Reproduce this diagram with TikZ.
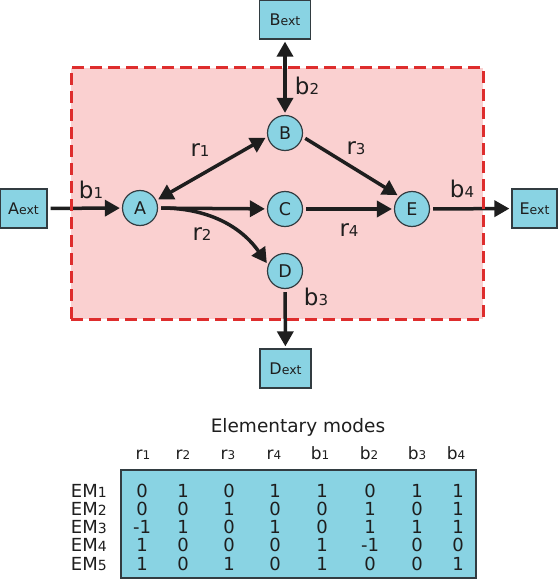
\documentclass[tikz,border=0pt]{standalone}
\usepackage{fontspec}
\setmainfont{DejaVu Sans}
\usetikzlibrary{arrows.meta}
\definecolor{nodeblue}{RGB}{137,211,227}
\definecolor{bgpink}{RGB}{250,208,208}
\definecolor{dashred}{RGB}{222,45,45}
\definecolor{ink}{RGB}{30,30,30}
\definecolor{rim}{RGB}{50,60,65}
\newcommand\ssub[1]{{\fontsize{15}{15}\selectfont #1}}
\newcommand\esub[1]{{\fontsize{12.5}{12.5}\selectfont #1}}
\newcommand\tsub[1]{{\fontsize{12}{12}\selectfont #1}}
\newcommand\msub[1]{{\fontsize{14}{14}\selectfont #1}}
\tikzset{
  met/.style={circle, draw=rim, line width=1.2pt, fill=nodeblue, minimum size=35pt,
    inner sep=0pt, font=\fontsize{17.5}{17.5}\selectfont, text=ink},
  extbox/.style={rectangle, draw=rim, line width=1.2pt, fill=nodeblue, minimum height=39pt,
    inner sep=0pt, font=\fontsize{16}{16}\selectfont, text=ink},
  flux/.style={draw=ink, line width=3.5pt, -{Triangle[length=15pt 0 0,width=16pt 0 0]}, shorten <=3pt, shorten >=2pt},
  biflux/.style={draw=ink, line width=3.5pt, {Triangle[length=15pt 0 0,width=16pt 0 0]}-{Triangle[length=15pt 0 0,width=16pt 0 0]}, shorten <=2pt, shorten >=2pt},
  elab/.style={anchor=base, font=\fontsize{23}{23}\selectfont, text=ink, inner sep=0pt},
  tfont/.style={font=\fontsize{18}{18}\selectfont, text=ink, inner sep=0pt},
  hfont/.style={anchor=base, font=\fontsize{17}{17}\selectfont, text=ink, inner sep=0pt},
}
\begin{document}
\begin{tikzpicture}[x=1pt,y=1pt]
\useasboundingbox (0,0) rectangle (558,-580);
% compartment fill
\node[fill=bgpink, minimum width=412pt, minimum height=251pt, inner sep=0pt] (cell) at (277,-193.5) {};
% metabolites
\node[met] (A) at (140,-208) {A};
\node[met] (B) at (285,-133) {B};
\node[met] (C) at (285,-209) {C};
\node[met] (D) at (285,-271) {D};
\node[met] (E) at (412,-209) {E};
% external
\node[extbox, minimum width=47pt] (Aext) at (23.5,-208.5) {A\esub{ext}};
\node[extbox, minimum width=51pt] (Bext) at (285,-19.5) {B\esub{ext}};
\node[extbox, minimum width=51pt] (Dext) at (285.5,-368.5) {D\esub{ext}};
\node[extbox, minimum width=45pt] (Eext) at (534.5,-208.5) {E\esub{ext}};
% reactions
\draw[flux] (Aext) -- (A);
\draw[biflux] (A.25) -- (B.192);
\draw[flux] (A) -- (C);
\draw[flux] (A.east) to[out=0,in=125] (D.160);
\draw[flux] (B.-12) -- (E.135);
\draw[flux] (C) -- (E);
\draw[flux] (E) -- (Eext);
\draw[biflux] (Bext) -- (B);
\draw[flux] (D) -- (Dext);
% compartment border on top
\node[draw=dashred, line width=3pt, dash pattern=on 12pt off 6pt,
  minimum width=412pt, minimum height=251pt, inner sep=0pt] (cellrim) at (277,-193.5) {};
% reaction labels
\node[elab] (lb1) at (91,-198) {b\ssub{1}};
\node[elab] (lr1) at (200,-157) {r\ssub{1}};
\node[elab] (lr2) at (202,-240) {r\ssub{2}};
\node[elab] (lb2) at (307,-95) {b\ssub{2}};
\node[elab] (lr3) at (356,-155) {r\ssub{3}};
\node[elab] (lr4) at (349,-236) {r\ssub{4}};
\node[elab] (lb4) at (462,-197) {b\ssub{4}};
\node[elab] (lb3) at (316,-305) {b\ssub{3}};
% table
\node[anchor=base, font=\fontsize{18.5}{18.5}\selectfont, text=ink, inner sep=0pt] (title) at (298,-432) {Elementary modes};
\node[draw=rim, line width=2pt, fill=nodeblue, minimum width=355pt, minimum height=108pt, inner sep=0pt] (tbl) at (298.5,-524) {};
\foreach \x/\lbl [count=\i] in {143/{r\tsub{1}},183/{r\tsub{2}},228/{r\tsub{3}},274/{r\tsub{4}},320/{b\tsub{1}},369/{b\tsub{2}},417/{b\tsub{3}},456/{b\tsub{4}}}
  \node[hfont] (h\i) at (\x,-459) {\lbl};
\def\colx{{142,183,229,275,322,370,417,458}}
\foreach \vals [count=\j] in {{0,1,0,1,1,0,1,1},{0,0,1,0,0,1,0,1},{-1,1,0,1,0,1,1,1},{1,0,0,0,1,-1,0,0},{1,0,1,0,1,0,0,1}} {
  \pgfmathsetmacro\yy{-497-18.25*(\j-1)}
  \node[tfont, anchor=base east] (em\j) at (107,\yy) {EM\msub{\j}};
  \foreach \v [count=\i] in \vals {
    \pgfmathsetmacro\xx{\colx[\i-1]}
    \node[tfont, anchor=base] (v\j-\i) at (\xx,\yy) {\v};
  }
}
\end{tikzpicture}
\end{document}
